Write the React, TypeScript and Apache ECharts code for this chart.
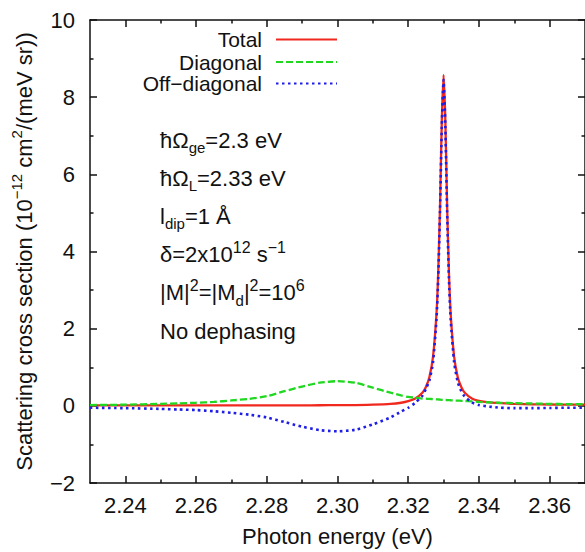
import React, { useEffect, useRef } from "react";
import * as echarts from "echarts";

const FONT = "Liberation Sans";
const INK = "#111111";
const RED = "#f0281e";
const GREEN = "#1fd81f";
const BLUE = "#1e1ee6";

const seriesNames = ["Total", "Diagonal", "Off\u2212diagonal"];

const energy = [
  2.23, 2.24, 2.25, 2.255, 2.26, 2.265, 2.27, 2.275, 2.28, 2.285, 2.29, 2.295, 2.3,
  2.305, 2.31, 2.315, 2.318, 2.32, 2.322, 2.324, 2.325, 2.326, 2.327, 2.328, 2.3285,
  2.329, 2.3295, 2.33, 2.3305, 2.331, 2.3315, 2.332, 2.333, 2.334, 2.335, 2.336, 2.338,
  2.34, 2.343, 2.346, 2.35, 2.355, 2.36, 2.365, 2.37,
];

const total = [
  0.01, 0.01, 0.01, 0.01, 0.01, 0.01, 0.01, 0.01, 0.01, 0.01, 0.01, 0.015, 0.02,
  0.02, 0.03, 0.05, 0.08, 0.12, 0.19, 0.34, 0.49, 0.75, 1.26, 2.4, 3.5,
  5.2, 7.4, 8.58, 7.4, 5.2, 3.5, 2.4, 1.26, 0.75, 0.49, 0.34, 0.19,
  0.13, 0.09, 0.07, 0.05, 0.04, 0.035, 0.03, 0.03,
];

const diagonal = [
  0.02, 0.03, 0.05, 0.065, 0.08, 0.1, 0.14, 0.18, 0.25, 0.38, 0.5, 0.6, 0.64,
  0.6, 0.47, 0.34, 0.27, 0.23, 0.21, 0.19, 0.185, 0.18, 0.175, 0.17, 0.165,
  0.16, 0.157, 0.155, 0.152, 0.15, 0.148, 0.145, 0.14, 0.135, 0.13, 0.125, 0.115,
  0.1, 0.09, 0.08, 0.07, 0.06, 0.05, 0.045, 0.04,
];

const offDiagonal = [
  -0.05, -0.06, -0.08, -0.095, -0.11, -0.14, -0.18, -0.23, -0.3, -0.42, -0.54, -0.63, -0.66,
  -0.62, -0.48, -0.3, -0.15, -0.05, 0.08, 0.26, 0.44, 0.66, 1.12, 2.25, 3.35,
  5.05, 7.25, 8.45, 7.25, 5.05, 3.35, 2.25, 1.12, 0.62, 0.38, 0.24, 0.09,
  0.02, -0.02, -0.05, -0.06, -0.06, -0.055, -0.05, -0.05,
];

const majorTicksX = [2.24, 2.26, 2.28, 2.3, 2.32, 2.34, 2.36];
const minorTicksX = [2.25, 2.27, 2.29, 2.31, 2.33, 2.35];

const annotations = [
  "\u0127\u03a9{sub|ge}=2.3 eV",
  "\u0127\u03a9{sub|L}=2.33 eV",
  "l{sub|dip}=1 \u00c5",
  "\u03b4=2x10{sup|12} s{sup|\u22121}",
  "|M|{sup|2}=|M{sub|d}|{sup|2}=10{sup|6}",
  "No dephasing",
];

const richScripts = {
  sub: { fontSize: 15, lineHeight: 15, verticalAlign: "bottom", fontFamily: FONT, fill: INK, color: INK },
  sup: { fontSize: 16, lineHeight: 15, verticalAlign: "top", fontFamily: FONT, fill: INK, color: INK },
};

function pairs(ys: number[]) {
  return energy.map((e, i) => [e, ys[i]]);
}

const axisLineStyle = { color: INK, width: 1.5 };

function xAxisDef(position: "top" | "bottom", ticks: number[], len: number, main: boolean, showLine: boolean) {
  return {
    type: "value",
    position,
    min: 2.23,
    max: 2.37,
    gridIndex: 0,
    axisLine: { show: showLine, onZero: false, lineStyle: axisLineStyle },
    axisTick: { show: true, inside: true, length: len, customValues: ticks, lineStyle: { color: INK, width: 1.5 } },
    axisLabel: main
      ? {
          show: true,
          customValues: ticks,
          formatter: (v: number) => v.toFixed(2),
          fontSize: 22,
          fontFamily: FONT,
          color: INK,
          margin: 11,
        }
      : { show: false },
    splitLine: { show: false },
    ...(main
      ? {
          name: "Photon energy (eV)",
          nameLocation: "middle",
          nameGap: 42,
          nameTextStyle: { fontSize: 22, fontFamily: FONT, color: INK },
        }
      : {}),
  };
}

function yAxisDef(position: "left" | "right", main: boolean) {
  return {
    type: "value",
    position,
    min: -2,
    max: 10,
    interval: 2,
    axisLine: { show: true, onZero: false, lineStyle: axisLineStyle },
    axisTick: { show: true, inside: true, length: 7, lineStyle: { color: INK, width: 1.5 } },
    minorTick: { show: true, splitNumber: 2, length: 3.5, lineStyle: { color: INK, width: 1.5 } },
    axisLabel: main
      ? {
          show: true,
          formatter: (v: number) => (v < 0 ? "\u2212" + Math.abs(v) : String(v)),
          fontSize: 22,
          fontFamily: FONT,
          color: INK,
          margin: 15,
        }
      : { show: false },
    splitLine: { show: false },
    minorSplitLine: { show: false },
    ...(main
      ? {
          name: "Scattering cross section (10{sup|\u221212} cm{sup|2}/(meV sr))",
          nameLocation: "middle",
          nameGap: 42,
          nameTextStyle: {
            fontSize: 22,
            fontFamily: FONT,
            color: INK,
            lineHeight: 30,
            rich: {
              sup: { fontSize: 15, lineHeight: 15, verticalAlign: "top", fontFamily: FONT, color: INK },
            },
          },
        }
      : {}),
  };
}

const legendTops = [29, 51.5, 73];

const option = {
  animation: false,
  backgroundColor: "#ffffff",
  grid: { left: 90, top: 20, width: 496, height: 466 },
  xAxis: [
    xAxisDef("bottom", majorTicksX, 7, true, true),
    xAxisDef("bottom", minorTicksX, 3.5, false, false),
    xAxisDef("top", majorTicksX, 7, false, true),
    xAxisDef("top", minorTicksX, 3.5, false, false),
  ],
  yAxis: [yAxisDef("left", true), yAxisDef("right", false)],
  legend: seriesNames.map((n, i) => ({
    data: [n],
    orient: "horizontal",
    align: "right",
    right: 247,
    top: legendTops[i],
    padding: 0,
    itemWidth: 61,
    itemHeight: 12,
    selectedMode: false,
    itemStyle: { opacity: 0, borderWidth: 0 },
    textStyle: {
      fontSize: 21,
      fontFamily: FONT,
      color: INK,
      lineHeight: 20,
      padding: [0, 9, 0, 0],
    },
  })),
  graphic: annotations.map((t, i) => ({
    type: "text",
    x: 160,
    y: 140 + i * 38.2,
    z: 10,
    style: {
      text: t,
      fontSize: 22,
      fontFamily: FONT,
      fill: INK,
      lineHeight: 30,
      verticalAlign: "middle",
      align: "left",
      rich: richScripts,
    },
  })),
  series: [
    {
      type: "line",
      name: seriesNames[0],
      data: pairs(total),
      xAxisIndex: 0,
      yAxisIndex: 0,
      symbol: "none",
      showSymbol: false,
      smooth: 0.2,
      color: RED,
      itemStyle: { color: RED },
      lineStyle: { color: RED, width: 2.3, type: "solid" },
    },
    {
      type: "line",
      name: seriesNames[1],
      data: pairs(diagonal),
      xAxisIndex: 0,
      yAxisIndex: 0,
      symbol: "none",
      showSymbol: false,
      smooth: 0.2,
      color: GREEN,
      itemStyle: { color: GREEN },
      lineStyle: { color: GREEN, width: 2.3, type: [7, 3] },
    },
    {
      type: "line",
      name: seriesNames[2],
      data: pairs(offDiagonal),
      xAxisIndex: 0,
      yAxisIndex: 0,
      symbol: "none",
      showSymbol: false,
      smooth: 0.2,
      color: BLUE,
      itemStyle: { color: BLUE },
      lineStyle: { color: BLUE, width: 2.6, type: [2.5, 3.5] },
    },
  ],
};

export default function App() {
  const ref = useRef<HTMLDivElement>(null);
  useEffect(() => {
    const chart = echarts.init(ref.current as HTMLDivElement, null, { renderer: "svg" });
    chart.setOption(option as any);
    return () => chart.dispose();
  }, []);
  return (
    <div
      ref={ref}
      style={{ position: "absolute", left: 0, top: 0, width: 585, height: 552, background: "#fff" }}
    />
  );
}
